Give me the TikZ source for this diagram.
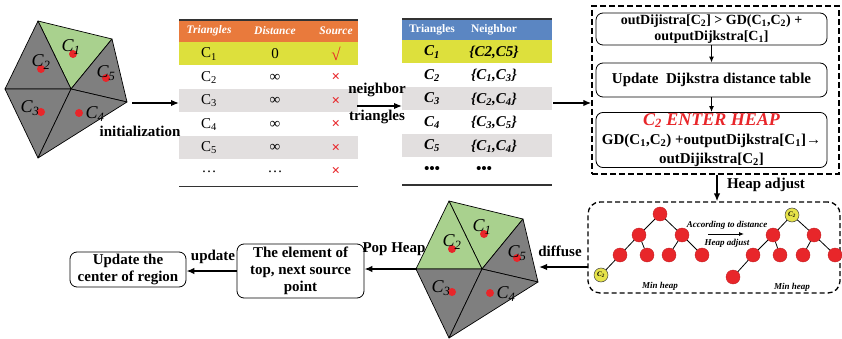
\documentclass[tikz,border=0pt]{standalone}
\usepackage{fontspec}
\setmainfont{Liberation Serif}
\usetikzlibrary{arrows.meta}

\definecolor{meshgray}{HTML}{7F7F7F}
\definecolor{meshgreen}{HTML}{A9D18E}
\definecolor{hdrorange}{HTML}{E97A3C}
\definecolor{hdrblue}{HTML}{5B86C2}
\definecolor{rowyellow}{HTML}{DDE03C}
\definecolor{rowgray}{HTML}{E2DFDF}
\definecolor{dotred}{HTML}{E8262A}
\definecolor{heapyellow}{HTML}{E6E34A}
\definecolor{markred}{HTML}{E8262A}

\newcommand{\sbs}[1]{\textsubscript{#1}}

% triangulated region: #1 centre, #2 name prefix, #3 fill of the C2 triangle
\newcommand{\drawmesh}[3]{%
\begin{scope}[shift={(#1)}]
  \coordinate (#2T) at (-33,-68);
  \coordinate (#2TR) at (41,-50);
  \coordinate (#2R) at (56,13);
  \coordinate (#2B) at (-33,69);
  \coordinate (#2L) at (-66,0);
  \coordinate (#2O) at (0,0);
  \filldraw[mesh, fill=meshgreen] (#2T) -- (#2TR) -- (#2O) -- cycle;
  \filldraw[mesh, fill=#3] (#2T) -- (#2O) -- (#2L) -- cycle;
  \filldraw[mesh, fill=meshgray] (#2TR) -- (#2R) -- (#2O) -- cycle;
  \filldraw[mesh, fill=meshgray] (#2L) -- (#2O) -- (#2B) -- cycle;
  \filldraw[mesh, fill=meshgray] (#2O) -- (#2R) -- (#2B) -- cycle;
  \node[cdot] (#2d1) at (2,-35) {};
  \node[cdot] (#2d2) at (-30,-20) {};
  \node[cdot] (#2d5) at (35,-11) {};
  \node[cdot] (#2d3) at (-30,23) {};
  \node[cdot] (#2d4) at (8,24) {};
  \node[clab] (#2c1) at (0,-42) {C\sbs{1}};
  \node[clab] (#2c2) at (-30,-27) {C\sbs{2}};
  \node[clab] (#2c5) at (35,-16) {C\sbs{5}};
  \node[clab] (#2c3) at (-41,19) {C\sbs{3}};
  \node[clab] (#2c4) at (24,25) {C\sbs{4}};
\end{scope}}

\begin{document}
\begin{tikzpicture}[x=1pt,y=-1pt,
  mesh/.style={draw=black, line width=0.7pt, line join=round},
  cdot/.style={circle, fill=dotred, inner sep=0pt, minimum size=8pt},
  clab/.style={font=\itshape\fontsize{18}{18}\selectfont, inner sep=0pt},
  lbl/.style={font=\bfseries\fontsize{15}{18}\selectfont, inner sep=1pt},
  flow/.style={draw, rounded corners=7pt, line width=0.8pt, align=center,
    font=\bfseries\fontsize{15}{17}\selectfont, inner sep=1pt},
  arr/.style={-{Latex[length=8pt,width=6.5pt]}, line width=1.5pt},
  sarr/.style={-{Latex[length=6pt,width=5pt]}, line width=1.2pt},
  hred/.style={circle, fill=dotred, draw=dotred!85!black, line width=0.4pt,
    inner sep=0pt, minimum size=14pt},
  hyel/.style={circle, fill=heapyellow, draw=black!75, line width=0.5pt,
    inner sep=0pt, minimum size=14pt, font=\bfseries\itshape\fontsize{7}{7}\selectfont},
  hedge/.style={line width=0.8pt},
  cell/.style={inner sep=0pt, font=\fontsize{15}{15}\selectfont},
  bcell/.style={inner sep=0pt, font=\bfseries\itshape\fontsize{15}{15}\selectfont},
  hcell/.style={inner sep=0pt, text=white, font=\bfseries\itshape\fontsize{11.5}{12}\selectfont},
  frame/.style={inner sep=0pt, outer sep=0pt},
  small/.style={font=\bfseries\itshape\fontsize{9}{10}\selectfont, inner sep=1pt},
  dashbox/.style={draw, dash pattern=on 6pt off 3pt, line width=1.4pt, inner sep=0pt},
]
\useasboundingbox (0,0) rectangle (842,339);

% ---------- initial region ----------
\drawmesh{71,89}{ma}{meshgray}

% ---------- distance table ----------
\fill[hdrorange] (179,20) rectangle (358,42);
\fill[rowyellow] (179,42) rectangle (358,65.5);
\fill[rowgray] (179,89) rectangle (358,112.5);
\fill[rowgray] (179,136) rectangle (358,159.5);
\draw[line width=1.2pt, black!80] (179,20) -- (358,20);
\draw[line width=1.8pt, black!80] (179,186.5) -- (358,186.5);
\node[frame, minimum width=179pt, minimum height=166pt] (tabA) at (268.5,103) {};
\node[hcell] (a0a) at (209,31) {Triangles};
\node[hcell] (a0b) at (275,31) {Distance};
\node[hcell] (a0c) at (336,31) {Source};
\node[cell] (a1a) at (209,54) {C\sbs{1}};
\node[cell] (a1b) at (275,54) {0};
\node[cell, text=markred, font=\fontsize{17}{17}\selectfont] (a1c) at (336,54) {√};
\node[cell] (a2a) at (209,77.5) {C\sbs{2}};
\node[cell] (a2b) at (275,77.5) {∞};
\node[cell, text=markred] (a2c) at (336,77.5) {\bfseries ×};
\node[cell] (a3a) at (209,101) {C\sbs{3}};
\node[cell] (a3b) at (275,101) {∞};
\node[cell, text=markred] (a3c) at (336,101) {\bfseries ×};
\node[cell] (a4a) at (209,124.5) {C\sbs{4}};
\node[cell] (a4b) at (275,124.5) {∞};
\node[cell, text=markred] (a4c) at (336,124.5) {\bfseries ×};
\node[cell] (a5a) at (209,148) {C\sbs{5}};
\node[cell] (a5b) at (275,148) {∞};
\node[cell, text=markred] (a5c) at (336,148) {\bfseries ×};
\node[cell] (a6a) at (209,172) {…};
\node[cell] (a6b) at (275,172) {…};
\node[cell, text=markred] (a6c) at (336,171) {\bfseries ×};

% ---------- neighbour table ----------
\fill[hdrblue] (402,19) rectangle (552,40);
\fill[rowyellow] (402,40) rectangle (552,63.5);
\fill[rowgray] (402,87) rectangle (552,110.5);
\fill[rowgray] (402,134) rectangle (552,157.5);
\draw[line width=1.2pt, black!80] (402,19) -- (552,19);
\draw[line width=1.8pt, black!80] (402,185) -- (552,185);
\node[frame, minimum width=150pt, minimum height=166pt] (tabB) at (477,102) {};
\node[hcell, font=\bfseries\fontsize{11.5}{12}\selectfont] (b0a) at (432,30) {Triangles};
\node[hcell, font=\bfseries\fontsize{11.5}{12}\selectfont] (b0b) at (494,30) {Neighbor};
\node[bcell] (b1a) at (432,52) {C\sbs{1}};
\node[bcell] (b1b) at (494,52) {\{C2,C5\}};
\node[bcell] (b2a) at (432,75.5) {C\sbs{2}};
\node[bcell] (b2b) at (494,75.5) {\{C\sbs{1},C\sbs{3}\}};
\node[bcell] (b3a) at (432,99) {C\sbs{3}};
\node[bcell] (b3b) at (494,99) {\{C\sbs{2},C\sbs{4}\}};
\node[bcell] (b4a) at (432,122.5) {C\sbs{4}};
\node[bcell] (b4b) at (494,122.5) {\{C\sbs{3},C\sbs{5}\}};
\node[bcell] (b5a) at (432,146) {C\sbs{5}};
\node[bcell] (b5b) at (494,146) {\{C\sbs{1},C\sbs{4}\}};
\node[bcell] (b6a) at (432,170) {•••};
\node[bcell] (b6b) at (484,170) {•••};

% ---------- relaxation steps ----------
\node[dashbox, minimum width=247pt, minimum height=168pt] (relax) at (715.5,90) {};
\node[flow, font=\bfseries\fontsize{14}{16}\selectfont, minimum width=231pt,
  minimum height=32pt] (s1) at (711.5,29)
  {outDijistra[C\sbs{2}] > GD(C\sbs{1},C\sbs{2}) +\\outputDijkstra[C\sbs{1}]};
\node[flow, minimum width=231pt, minimum height=34pt] (s2) at (711.5,80)
  {Update\ \ Dijkstra distance table};
\node[flow, minimum width=231pt, minimum height=54pt, font=\bfseries\fontsize{15}{19}\selectfont] (s3) at (711.5,140)
  {{\color{markred}\itshape\fontsize{18}{19}\selectfont C\sbs{2} ENTER HEAP}\\
   GD(C\sbs{1},C\sbs{2}) +outputDijkstra[C\sbs{1}]→\\outDijikstra[C\sbs{2}]};
\draw[sarr] (s1) -- (s2);
\draw[sarr] (s2) -- (s3);

% ---------- heap adjustment ----------
\node[dashbox, dash pattern=on 5pt off 3pt, line width=1.3pt, rounded corners=12pt,
  minimum width=252pt, minimum height=91pt] (heap) at (714,247.5) {};
% heap before adjustment
\node[hred] (p0) at (660,214) {};
\node[hred] (p1) at (639,235) {};
\node[hred] (p2) at (682,235) {};
\node[hred] (p3) at (620,255) {};
\node[hred] (p4) at (647,255) {};
\node[hred] (p5) at (669,255) {};
\node[hred] (p6) at (702,255) {};
\node[hyel] (p7) at (601,275) {C\sbs{2}};
% heap after adjustment
\node[hyel] (q0) at (792,215) {C\sbs{2}};
\node[hred] (q1) at (773,235) {};
\node[hred] (q2) at (814,235) {};
\node[hred] (q3) at (753,255) {};
\node[hred] (q4) at (780,255) {};
\node[hred] (q5) at (803,255) {};
\node[hred] (q6) at (835,255) {};
\node[hred] (q7) at (733,277) {};
\draw[hedge] (p0) -- (p1) (p0) -- (p2) (p1) -- (p3) (p1) -- (p4)
  (p2) -- (p5) (p2) -- (p6) (p3) -- (p7);
\draw[hedge] (q0) -- (q1) (q0) -- (q2) (q1) -- (q3) (q1) -- (q4)
  (q2) -- (q5) (q2) -- (q6) (q3) -- (q7);
\node[small] (mh1) at (660,286) {Min heap};
\node[small] (mh2) at (792,287) {Min heap};
\node[small] (acc) at (727,225) {According to distance};
\node[small] (hadj) at (727,243) {Heap adjust};
\coordinate (ha1) at (708,234);
\coordinate (ha2) at (744,234);
\draw[-{Latex[length=5pt,width=4pt]}, line width=0.8pt] (ha1) -- (ha2);

% ---------- diffused region ----------
\drawmesh{482,269}{mb}{meshgreen}

% ---------- result boxes ----------
\node[flow, minimum width=127pt, minimum height=54pt] (pop) at (300.5,271)
  {The element of\\top, next source\\point};
\node[flow, minimum width=116pt, minimum height=35pt] (upd) at (128,269.5)
  {Update the\\center of region};

% ---------- connectors ----------
\coordinate (maOut) at (132,103);
\draw[arr] (maOut) -- (tabA.west |- maOut);
\node[lbl] (linit) at (140,131) {initialization};
\coordinate (tabAout) at (357,106);
\draw[arr] (tabAout) -- (tabB.west |- tabAout);
\node[lbl] (lnb1) at (377,90) {neighbor};
\node[lbl] (lnb2) at (377,117) {triangles};
\coordinate (tabBout) at (553,103);
\draw[arr] (tabBout) -- (relax.west |- tabBout);
\draw[arr] (relax.south -| 717,0) -- (heap.north -| 717,0);
\node[lbl] (lha) at (766,185) {Heap adjust};
\coordinate (heapOut) at (588,267);
\coordinate (mbIn) at (539,267);
\draw[arr] (heapOut) -- (mbIn);
\node[lbl] (ldif) at (560,251) {diffuse};
\draw[arr] (mbL) -- (pop.east |- mbL);
\node[lbl] (lpop) at (394,249) {Pop Heap};
\draw[arr] (pop.west) -- (upd.east |- pop.west);
\node[lbl] (lupd) at (213,257) {update};
\end{tikzpicture}
\end{document}
